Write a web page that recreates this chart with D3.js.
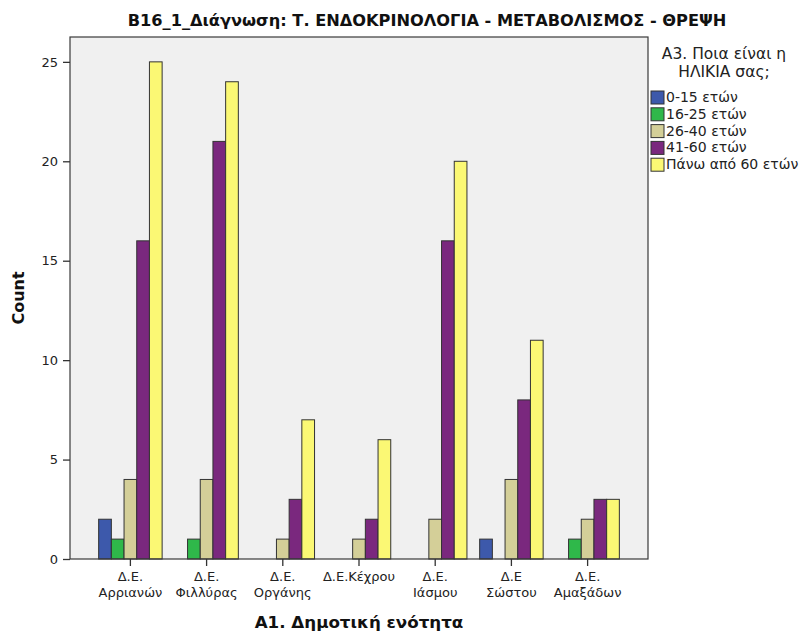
<!DOCTYPE html>
<html>
<head>
<meta charset="utf-8">
<script src="https://d3js.org/d3.v7.min.js"></script>
<style>
  body { margin: 0; background: #fff; }
  text { font-family: "DejaVu Sans", Verdana, sans-serif; }
</style>
</head>
<body>
<div id="chart"></div>
<script>
// data
var categories = [["Δ.Ε.", "Αρριανών"], ["Δ.Ε.", "Φιλλύρας"], ["Δ.Ε.", "Οργάνης"], ["Δ.Ε.Κέχρου"],
                  ["Δ.Ε.", "Ιάσμου"], ["Δ.Ε", "Σώστου"], ["Δ.Ε.", "Αμαξάδων"]];
var ageGroups = ["0-15 ετών", "16-25 ετών", "26-40 ετών", "41-60 ετών", "Πάνω από 60 ετών"];
var colors = ["#3d59ab", "#2fb84a", "#d4cf98", "#7a287e", "#fbf874"];
var age0_15 = [2, 0, 0, 0, 0, 1, 0];
var age16_25 = [1, 1, 0, 0, 0, 0, 1];
var age26_40 = [4, 4, 1, 1, 2, 4, 2];
var age41_60 = [16, 21, 3, 2, 16, 8, 3];
var age60plus = [25, 24, 7, 6, 20, 11, 3];
var series = [age0_15, age16_25, age26_40, age41_60, age60plus];
var yTicks = [0, 5, 10, 15, 20, 25];

var W = 800, H = 633;
var margin = {left: 70, top: 37, right: 152, bottom: 74};
var width = W - margin.left - margin.right;
var height = H - margin.top - margin.bottom;

var svg = d3.select("#chart").append("svg")
  .attr("width", W).attr("height", H);

var g = svg.append("g")
  .attr("transform", "translate(" + margin.left + "," + margin.top + ")");

// plot background
g.append("rect")
  .attr("width", width).attr("height", height)
  .attr("fill", "#f0f0f0");

var idx = d3.range(categories.length);
var x = d3.scaleBand().domain(idx).range([0, width])
  .paddingInner(0.167).paddingOuter(0.376);
var x1 = d3.scaleBand().domain(d3.range(ageGroups.length)).range([0, x.bandwidth()]);
var y = d3.scaleLinear().domain([0, 26.25]).range([height, 0]);

// bars (zero values show up as a flat line on the baseline)
series.forEach(function(vals, s) {
  g.append("g").selectAll("rect")
    .data(vals)
    .enter()
    .append("rect")
    .attr("x", function(d, i) { return x(i) + x1(s); })
    .attr("y", function(d) { return y(d); })
    .attr("width", x1.bandwidth())
    .attr("height", function(d) { return y(0) - y(d); })
    .attr("fill", colors[s])
    .attr("stroke", "#333")
    .attr("stroke-width", 1);
});

// frame
g.append("rect")
  .attr("width", width).attr("height", height)
  .attr("fill", "none").attr("stroke", "#3a3a3a").attr("stroke-width", 1.2);

// y axis
var yAxis = d3.axisLeft(y).tickValues(yTicks).tickSize(7).tickPadding(5);
var YAXIS = g.append("g").call(yAxis);
YAXIS.select(".domain").remove();
YAXIS.selectAll(".tick line").attr("stroke", "#333").attr("stroke-width", 1.3);
YAXIS.selectAll(".tick text").attr("font-size", "13px").attr("fill", "#222")
  .style("font-family", "DejaVu Sans, Verdana, sans-serif");

// x axis, two-line labels
var xAxis = d3.axisBottom(x).tickSize(7).tickFormat("");
var XAXIS = g.append("g").attr("transform", "translate(0," + height + ")").call(xAxis);
XAXIS.select(".domain").remove();
XAXIS.selectAll(".tick line").attr("stroke", "#333").attr("stroke-width", 1.3);
XAXIS.selectAll(".tick").each(function(d) {
  var tick = d3.select(this);
  categories[d].forEach(function(line, k) {
    tick.append("text")
      .attr("text-anchor", "middle")
      .attr("font-size", "13px")
      .attr("fill", "#222")
      .attr("y", 22 + k * 15.5)
      .text(line);
  });
});

// title
svg.append("text")
  .attr("x", 427).attr("y", 26)
  .attr("text-anchor", "middle")
  .attr("font-size", "16.2px").attr("font-weight", "bold").attr("fill", "#111")
  .text("B16_1_Διάγνωση: Τ. ΕΝΔΟΚΡΙΝΟΛΟΓΙΑ - ΜΕΤΑΒΟΛΙΣΜΟΣ - ΘΡΕΨΗ");

// axis titles
svg.append("text")
  .attr("transform", "translate(24," + (margin.top + height / 2) + ") rotate(-90)")
  .attr("text-anchor", "middle")
  .attr("font-size", "16px").attr("font-weight", "bold").attr("fill", "#111")
  .text("Count");

svg.append("text")
  .attr("x", 359).attr("y", 628)
  .attr("text-anchor", "middle")
  .attr("font-size", "16.7px").attr("font-weight", "bold").attr("fill", "#111")
  .text("Α1. Δημοτική ενότητα");

// legend
var legend = svg.append("g");
legend.append("text")
  .attr("x", 724).attr("y", 59)
  .attr("text-anchor", "middle").attr("font-size", "15.5px").attr("fill", "#222")
  .text("Α3. Ποια είναι η");
legend.append("text")
  .attr("x", 724).attr("y", 77)
  .attr("text-anchor", "middle").attr("font-size", "15.5px").attr("fill", "#222")
  .text("ΗΛΙΚΙΑ σας;");

var items = legend.selectAll(".item")
  .data(ageGroups)
  .enter()
  .append("g")
  .attr("transform", function(d, i) { return "translate(651," + (91 + i * 16.8) + ")"; });
items.append("rect")
  .attr("width", 13).attr("height", 13)
  .attr("fill", function(d, i) { return colors[i]; })
  .attr("stroke", "#333");
items.append("text")
  .attr("x", 15).attr("y", 11)
  .attr("font-size", "14px").attr("fill", "#222")
  .text(function(d) { return d; });
</script>
</body>
</html>
